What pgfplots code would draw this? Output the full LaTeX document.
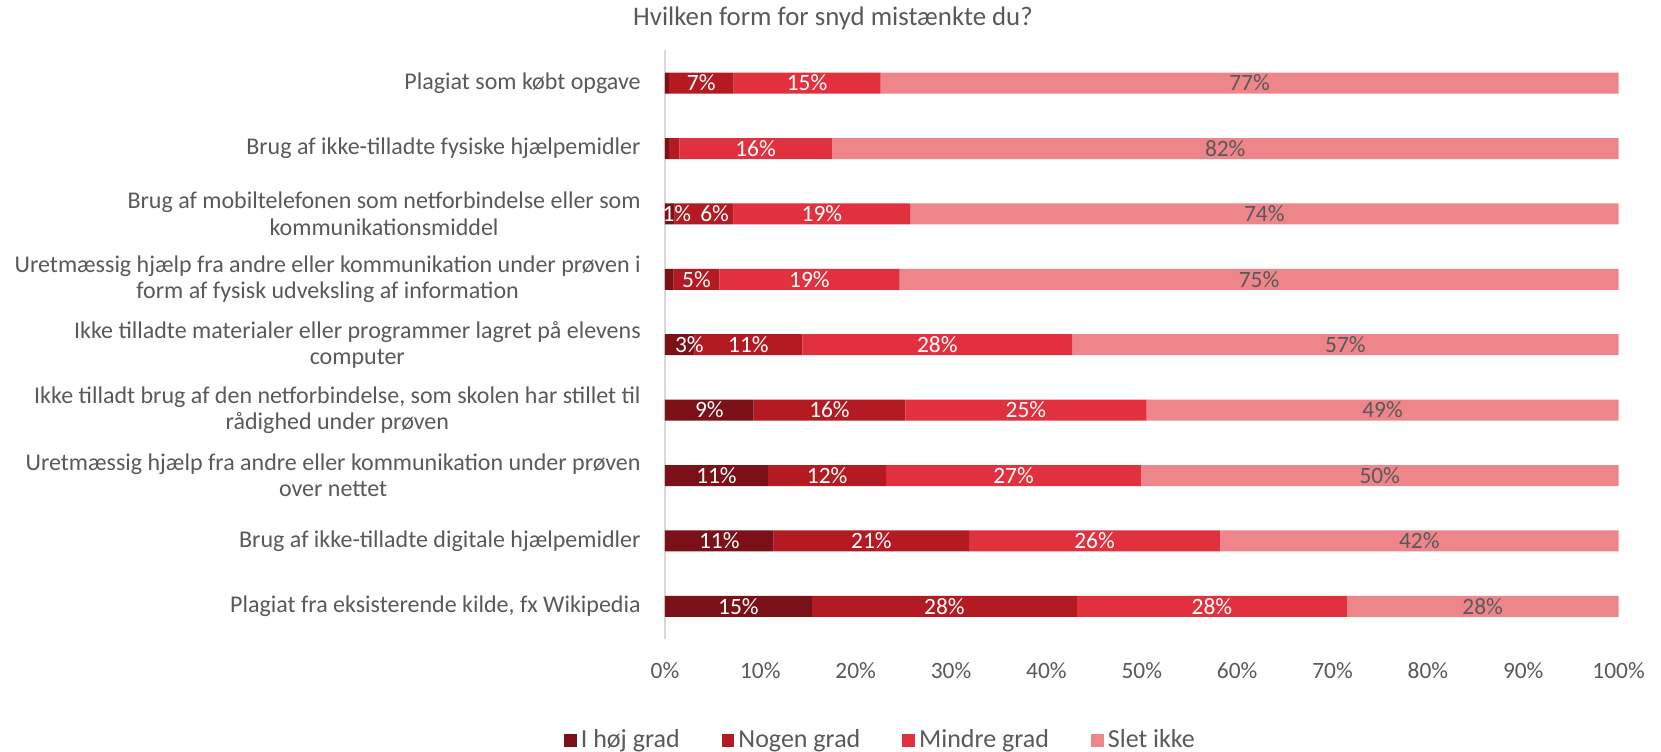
\documentclass[border=0pt]{standalone}
\usepackage{pgfplots}
\pgfplotsset{compat=1.18}
\usepackage{pgfplotstable}
\usepackage{fontspec}
\setmainfont{Carlito}
\usetikzlibrary{calc}
\definecolor{c1}{HTML}{7B1018}
\definecolor{c2}{HTML}{B31A22}
\definecolor{c3}{HTML}{E2313E}
\definecolor{c4}{HTML}{EE858A}
\definecolor{txt}{HTML}{595959}
\definecolor{axl}{HTML}{D9D9D9}

% values in percent; oa/ob = small shifts of the data labels (as in the reference)
\pgfplotstableread{
y a b c d la lb lc ld oa ob
8 0.4 6.8 15.4 77.4 {} 7\% 15\% 77\% 0 0
7 0.4 1.1 16.0 82.5 {} {} 16\% 82\% 0 0
6 1.0 6.2 18.5 74.3 1\% 6\% 19\% 74\% 0.75 1.1
5 0.9 4.8 18.9 75.4 {} 5\% 19\% 75\% 0 0
4 3.1 11.3 28.3 57.3 3\% 11\% 28\% 57\% 1.0 0
3 9.3 15.9 25.3 49.5 9\% 16\% 25\% 49\% 0 0
2 10.8 12.4 26.7 50.1 11\% 12\% 27\% 50\% 0 0
1 11.4 20.5 26.3 41.8 11\% 21\% 26\% 42\% 0 0
0 15.4 27.8 28.3 28.5 15\% 28\% 28\% 28\% 0 0
}\data

\begin{document}
\begin{tikzpicture}
\begin{axis}[name=ax, at={(0,0)}, anchor=south west, scale only axis,
  width=476.8pt, height=294.3pt,
  xbar stacked, bar width=10.5pt,
  xmin=0, xmax=100, ymin=-0.5, ymax=8.5,
  axis lines*=left,
  x axis line style={draw=none},
  y axis line style={draw=axl, line width=1pt},
  major tick length=0pt,
  xtick={0,10,...,100},
  /pgf/number format/assume math mode=true,
  xticklabel={\pgfmathprintnumber{\tick}\%},
  xticklabel style={font=\fontsize{11.7}{13}\selectfont, text=txt, anchor=base, inner sep=0pt, yshift=-19.9pt},
  ytick={0,...,8},
  yticklabels={{Plagiat fra eksisterende kilde, fx Wikipedia},
    {Brug af ikke-tilladte digitale hjælpemidler},
    {Uretmæssig hjælp fra andre eller kommunikation under prøven\\over nettet},
    {Ikke tilladt brug af den netforbindelse, som skolen har stillet til\\rådighed under prøven},
    {Ikke tilladte materialer eller programmer lagret på elevens\\computer},
    {Uretmæssig hjælp fra andre eller kommunikation under prøven i\\form af fysisk udveksling af information},
    {Brug af mobiltelefonen som netforbindelse eller som\\kommunikationsmiddel},
    {Brug af ikke-tilladte fysiske hjælpemidler},
    {Plagiat som købt opgave}},
  yticklabel style={font=\fontsize{12}{13.25}\selectfont, text=txt, align=center, anchor=east, inner sep=0pt, xshift=-12pt},
  legend style={at={(0.227,-0.172)}, anchor=center, legend columns=4, draw=none, fill=none,
    font=\fontsize{13}{15}\selectfont, text=txt,
    /tikz/every even column/.append style={column sep=19pt}},
  legend image code/.code={\fill[#1] (0pt,-3.2pt) rectangle (6.4pt,3.2pt);},
]
\addplot[fill=c1, draw=none] table[x=a, y=y]{\data};
\addplot[fill=c2, draw=none] table[x=b, y=y]{\data};
\addplot[fill=c3, draw=none] table[x=c, y=y]{\data};
\addplot[fill=c4, draw=none] table[x=d, y=y]{\data};
\legend{I høj grad, Nogen grad, Mindre grad, Slet ikke}
\end{axis}
\begin{axis}[at={(0,0)}, anchor=south west, scale only axis,
  width=476.8pt, height=294.3pt,
  xmin=0, xmax=100, ymin=-0.5, ymax=8.5, hide axis, clip=false,
  nodes near coords, point meta=explicit symbolic, nodes near coords align=center]
\addplot[draw=none, mark=none, every node near coord/.style={text=white, font=\fontsize{11.7}{13}\selectfont}] table[x expr=\thisrow{a}/2+\thisrow{oa}, y=y, meta=la]{\data};
\addplot[draw=none, mark=none, every node near coord/.style={text=white, font=\fontsize{11.7}{13}\selectfont}] table[x expr=\thisrow{a}+\thisrow{b}/2+\thisrow{ob}, y=y, meta=lb]{\data};
\addplot[draw=none, mark=none, every node near coord/.style={text=white, font=\fontsize{11.7}{13}\selectfont}] table[x expr=\thisrow{a}+\thisrow{b}+\thisrow{c}/2, y=y, meta=lc]{\data};
\addplot[draw=none, mark=none, every node near coord/.style={text=txt, font=\fontsize{11.7}{13}\selectfont}] table[x expr=\thisrow{a}+\thisrow{b}+\thisrow{c}+\thisrow{d}/2, y=y, meta=ld]{\data};
\end{axis}
\node[font=\fontsize{13.4}{15}\selectfont, text=txt] at ($(ax.south west)+(84pt,310.5pt)$) {Hvilken form for snyd mistænkte du?};
\pgfresetboundingbox
\path ($(ax.south west)+(-332.5pt,-56pt)$) rectangle ($(ax.south west)+(498pt,319.5pt)$);
\end{tikzpicture}
\end{document}
